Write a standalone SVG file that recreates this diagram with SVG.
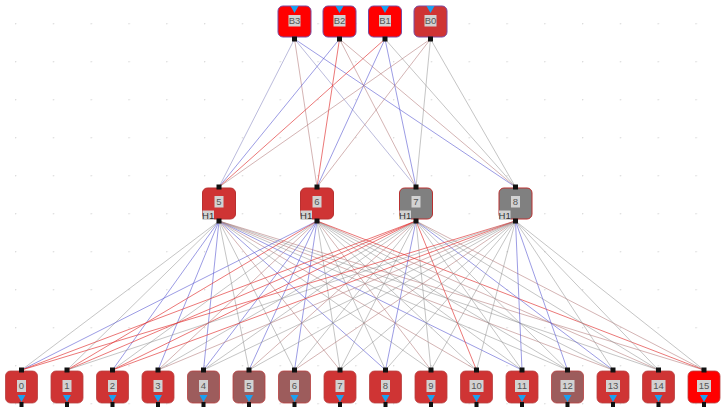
<svg xmlns="http://www.w3.org/2000/svg" width="721" height="407" viewBox="0 0 721 407">
  <style>
    .lbl { font-family: "Liberation Sans", Arial, sans-serif; font-size: 9.5px; fill: #555; text-anchor: middle; }
    .tag { fill: #d2d2d2; }
    .port { fill: #111; }
    .tri { fill: #1aa0f0; }
    .n-red { fill: #ff0000; }
    .n-dark { fill: #cf3434; }
    .n-brown { fill: #9d5c5c; }
    .n-grey { fill: #808080; }
    .bd-top { stroke: #7a4aa0; stroke-width: 1; }
    .bd-mid { stroke: #b83030; stroke-width: 1; }
    .bd-bot { stroke: #b84040; stroke-width: 0.8; }
    .e { fill: none; stroke-width: 1; }
    .g { stroke: #8c8c8c; stroke-opacity: 0.5; }
    .b { stroke: #5a5ad2; stroke-opacity: 0.6; }
    .bg { stroke: #8484c0; stroke-opacity: 0.55; }
    .r { stroke: #e03030; stroke-opacity: 0.65; }
    .m { stroke: #b07676; stroke-opacity: 0.55; }
  </style>
  <defs>
    <pattern id="grid" x="15" y="23" width="37.8" height="38" patternUnits="userSpaceOnUse">
      <circle cx="0.5" cy="0.5" r="0.9" fill="#dcdcdc"/>
    </pattern>
  </defs>

  <rect width="721" height="407" fill="#ffffff"/>
  <rect x="0" y="0" width="721" height="407" fill="url(#grid)"/>

  <!-- connectors: input layer to hidden layer, hidden layer to outputs -->
  <g id="connectors">
    <!-- B3 -->
    <line class="e bg" x1="294.5" y1="39" x2="219" y2="187"/>
    <line class="e m" x1="294.5" y1="39" x2="317" y2="187"/>
    <line class="e bg" x1="294.5" y1="39" x2="416" y2="187"/>
    <line class="e b" x1="294.5" y1="39" x2="515.5" y2="187"/>
    <!-- B2 -->
    <line class="e b" x1="339.5" y1="39" x2="219" y2="187"/>
    <line class="e r" x1="339.5" y1="39" x2="317" y2="187"/>
    <line class="e m" x1="339.5" y1="39" x2="416" y2="187"/>
    <line class="e m" x1="339.5" y1="39" x2="515.5" y2="187"/>
    <!-- B1 -->
    <line class="e r" x1="385" y1="39" x2="219" y2="187"/>
    <line class="e b" x1="385" y1="39" x2="317" y2="187"/>
    <line class="e b" x1="385" y1="39" x2="416" y2="187"/>
    <line class="e g" x1="385" y1="39" x2="515.5" y2="187"/>
    <!-- B0 -->
    <line class="e m" x1="430.5" y1="39" x2="219" y2="187"/>
    <line class="e m" x1="430.5" y1="39" x2="317" y2="187"/>
    <line class="e g" x1="430.5" y1="39" x2="416" y2="187"/>
    <line class="e g" x1="430.5" y1="39" x2="515.5" y2="187"/>

    <!-- hidden 5 -->
    <line class="e g" x1="219" y1="221" x2="21.5" y2="370"/>
    <line class="e g" x1="219" y1="221" x2="67" y2="370"/>
    <line class="e b" x1="219" y1="221" x2="112.5" y2="370"/>
    <line class="e b" x1="219" y1="221" x2="158" y2="370"/>
    <line class="e b" x1="219" y1="221" x2="203.5" y2="370"/>
    <line class="e g" x1="219" y1="221" x2="249" y2="370"/>
    <line class="e g" x1="219" y1="221" x2="294.5" y2="370"/>
    <line class="e m" x1="219" y1="221" x2="340" y2="370"/>
    <line class="e b" x1="219" y1="221" x2="385.5" y2="370"/>
    <line class="e g" x1="219" y1="221" x2="431" y2="370"/>
    <line class="e m" x1="219" y1="221" x2="476.5" y2="370"/>
    <line class="e b" x1="219" y1="221" x2="522" y2="370"/>
    <line class="e g" x1="219" y1="221" x2="567.5" y2="370"/>
    <line class="e m" x1="219" y1="221" x2="613" y2="370"/>
    <line class="e g" x1="219" y1="221" x2="658.5" y2="370"/>
    <line class="e m" x1="219" y1="221" x2="704" y2="370"/>
    <!-- hidden 6 -->
    <line class="e b" x1="317" y1="221" x2="21.5" y2="370"/>
    <line class="e r" x1="317" y1="221" x2="67" y2="370"/>
    <line class="e g" x1="317" y1="221" x2="112.5" y2="370"/>
    <line class="e m" x1="317" y1="221" x2="158" y2="370"/>
    <line class="e b" x1="317" y1="221" x2="203.5" y2="370"/>
    <line class="e b" x1="317" y1="221" x2="249" y2="370"/>
    <line class="e b" x1="317" y1="221" x2="294.5" y2="370"/>
    <line class="e g" x1="317" y1="221" x2="340" y2="370"/>
    <line class="e g" x1="317" y1="221" x2="385.5" y2="370"/>
    <line class="e m" x1="317" y1="221" x2="431" y2="370"/>
    <line class="e g" x1="317" y1="221" x2="476.5" y2="370"/>
    <line class="e g" x1="317" y1="221" x2="522" y2="370"/>
    <line class="e g" x1="317" y1="221" x2="567.5" y2="370"/>
    <line class="e g" x1="317" y1="221" x2="613" y2="370"/>
    <line class="e m" x1="317" y1="221" x2="658.5" y2="370"/>
    <line class="e r" x1="317" y1="221" x2="704" y2="370"/>
    <!-- hidden 7 -->
    <line class="e r" x1="416" y1="221" x2="21.5" y2="370"/>
    <line class="e r" x1="416" y1="221" x2="67" y2="370"/>
    <line class="e r" x1="416" y1="221" x2="112.5" y2="370"/>
    <line class="e g" x1="416" y1="221" x2="158" y2="370"/>
    <line class="e g" x1="416" y1="221" x2="203.5" y2="370"/>
    <line class="e m" x1="416" y1="221" x2="249" y2="370"/>
    <line class="e g" x1="416" y1="221" x2="294.5" y2="370"/>
    <line class="e g" x1="416" y1="221" x2="340" y2="370"/>
    <line class="e b" x1="416" y1="221" x2="385.5" y2="370"/>
    <line class="e g" x1="416" y1="221" x2="431" y2="370"/>
    <line class="e r" x1="416" y1="221" x2="476.5" y2="370"/>
    <line class="e g" x1="416" y1="221" x2="522" y2="370"/>
    <line class="e g" x1="416" y1="221" x2="567.5" y2="370"/>
    <line class="e b" x1="416" y1="221" x2="613" y2="370"/>
    <line class="e g" x1="416" y1="221" x2="658.5" y2="370"/>
    <line class="e m" x1="416" y1="221" x2="704" y2="370"/>
    <!-- hidden 8 -->
    <line class="e r" x1="515.5" y1="221" x2="21.5" y2="370"/>
    <line class="e g" x1="515.5" y1="221" x2="67" y2="370"/>
    <line class="e r" x1="515.5" y1="221" x2="112.5" y2="370"/>
    <line class="e m" x1="515.5" y1="221" x2="158" y2="370"/>
    <line class="e g" x1="515.5" y1="221" x2="203.5" y2="370"/>
    <line class="e g" x1="515.5" y1="221" x2="249" y2="370"/>
    <line class="e m" x1="515.5" y1="221" x2="294.5" y2="370"/>
    <line class="e g" x1="515.5" y1="221" x2="340" y2="370"/>
    <line class="e g" x1="515.5" y1="221" x2="385.5" y2="370"/>
    <line class="e g" x1="515.5" y1="221" x2="431" y2="370"/>
    <line class="e g" x1="515.5" y1="221" x2="476.5" y2="370"/>
    <line class="e b" x1="515.5" y1="221" x2="522" y2="370"/>
    <line class="e b" x1="515.5" y1="221" x2="567.5" y2="370"/>
    <line class="e g" x1="515.5" y1="221" x2="613" y2="370"/>
    <line class="e g" x1="515.5" y1="221" x2="658.5" y2="370"/>
    <line class="e g" x1="515.5" y1="221" x2="704" y2="370"/>
  </g>

  <!-- input layer -->
  <g id="node-B3">
    <rect class="n-red bd-top" x="278" y="6" width="33" height="31" rx="5"/>
    <polygon class="tri" points="290.5,6 298.5,6 294.5,13"/>
    <rect class="tag" x="288.5" y="15" width="12" height="11.5"/>
    <text class="lbl" x="294.5" y="24.3">B3</text>
    <rect class="port" x="292" y="36.5" width="5" height="5"/>
  </g>
  <g id="node-B2">
    <rect class="n-red bd-top" x="323" y="6" width="33" height="31" rx="5"/>
    <polygon class="tri" points="335.5,6 343.5,6 339.5,13"/>
    <rect class="tag" x="333.5" y="15" width="12" height="11.5"/>
    <text class="lbl" x="339.5" y="24.3">B2</text>
    <rect class="port" x="337" y="36.5" width="5" height="5"/>
  </g>
  <g id="node-B1">
    <rect class="n-red bd-top" x="368.5" y="6" width="33" height="31" rx="5"/>
    <polygon class="tri" points="381,6 389,6 385,13"/>
    <rect class="tag" x="379" y="15" width="12" height="11.5"/>
    <text class="lbl" x="385" y="24.3">B1</text>
    <rect class="port" x="382.5" y="36.5" width="5" height="5"/>
  </g>
  <g id="node-B0">
    <rect class="n-dark bd-top" x="414" y="6" width="33" height="31" rx="5"/>
    <polygon class="tri" points="426.5,6 434.5,6 430.5,13"/>
    <rect class="tag" x="424.5" y="15" width="12" height="11.5"/>
    <text class="lbl" x="430.5" y="24.3">B0</text>
    <rect class="port" x="428" y="36.5" width="5" height="5"/>
  </g>

  <!-- hidden layer -->
  <g id="node-5">
    <rect class="n-dark bd-mid" x="202.5" y="188" width="33" height="31" rx="5"/>
    <rect class="tag" x="214.5" y="196" width="9" height="11.5"/>
    <text class="lbl" x="219" y="204.8">5</text>
    <rect class="tag" x="202.5" y="210.5" width="11.5" height="9.5"/>
    <text class="lbl" x="208.2" y="218.6" style="fill:#333">H1</text>
    <rect class="port" x="216.5" y="184.5" width="5" height="5"/>
    <rect class="port" x="216.5" y="218.5" width="5" height="5"/>
  </g>
  <g id="node-6">
    <rect class="n-dark bd-mid" x="300.5" y="188" width="33" height="31" rx="5"/>
    <rect class="tag" x="312.5" y="196" width="9" height="11.5"/>
    <text class="lbl" x="317" y="204.8">6</text>
    <rect class="tag" x="300.5" y="210.5" width="11.5" height="9.5"/>
    <text class="lbl" x="306.2" y="218.6" style="fill:#333">H1</text>
    <rect class="port" x="314.5" y="184.5" width="5" height="5"/>
    <rect class="port" x="314.5" y="218.5" width="5" height="5"/>
  </g>
  <g id="node-7">
    <rect class="n-grey bd-mid" x="399.5" y="188" width="33" height="31" rx="5"/>
    <rect class="tag" x="411.5" y="196" width="9" height="11.5"/>
    <text class="lbl" x="416" y="204.8">7</text>
    <rect class="tag" x="399.5" y="210.5" width="11.5" height="9.5"/>
    <text class="lbl" x="405.2" y="218.6" style="fill:#333">H1</text>
    <rect class="port" x="413.5" y="184.5" width="5" height="5"/>
    <rect class="port" x="413.5" y="218.5" width="5" height="5"/>
  </g>
  <g id="node-8">
    <rect class="n-grey bd-mid" x="499" y="188" width="33" height="31" rx="5"/>
    <rect class="tag" x="511" y="196" width="9" height="11.5"/>
    <text class="lbl" x="515.5" y="204.8">8</text>
    <rect class="tag" x="499" y="210.5" width="11.5" height="9.5"/>
    <text class="lbl" x="504.7" y="218.6" style="fill:#333">H1</text>
    <rect class="port" x="513" y="184.5" width="5" height="5"/>
    <rect class="port" x="513" y="218.5" width="5" height="5"/>
  </g>

  <!-- output layer -->
  <g id="node-0">
    <rect class="n-dark bd-bot" x="5.5" y="371" width="32" height="32" rx="5"/>
    <rect class="tag" x="17" y="380" width="9" height="12"/>
    <text class="lbl" x="21.5" y="389.3">0</text>
    <polygon class="tri" points="17.5,395 25.5,395 21.5,402"/>
    <rect class="port" x="19" y="367.5" width="5" height="5"/>
    <rect class="port" x="19.5" y="402" width="4" height="5"/>
  </g>
  <g id="node-1">
    <rect class="n-dark bd-bot" x="51" y="371" width="32" height="32" rx="5"/>
    <rect class="tag" x="62.5" y="380" width="9" height="12"/>
    <text class="lbl" x="67" y="389.3">1</text>
    <polygon class="tri" points="63,395 71,395 67,402"/>
    <rect class="port" x="64.5" y="367.5" width="5" height="5"/>
    <rect class="port" x="65" y="402" width="4" height="5"/>
  </g>
  <g id="node-2">
    <rect class="n-dark bd-bot" x="96.5" y="371" width="32" height="32" rx="5"/>
    <rect class="tag" x="108" y="380" width="9" height="12"/>
    <text class="lbl" x="112.5" y="389.3">2</text>
    <polygon class="tri" points="108.5,395 116.5,395 112.5,402"/>
    <rect class="port" x="110" y="367.5" width="5" height="5"/>
    <rect class="port" x="110.5" y="402" width="4" height="5"/>
  </g>
  <g id="node-3">
    <rect class="n-dark bd-bot" x="142" y="371" width="32" height="32" rx="5"/>
    <rect class="tag" x="153.5" y="380" width="9" height="12"/>
    <text class="lbl" x="158" y="389.3">3</text>
    <polygon class="tri" points="154,395 162,395 158,402"/>
    <rect class="port" x="155.5" y="367.5" width="5" height="5"/>
    <rect class="port" x="156" y="402" width="4" height="5"/>
  </g>
  <g id="node-4">
    <rect class="n-brown bd-bot" x="187.5" y="371" width="32" height="32" rx="5"/>
    <rect class="tag" x="199" y="380" width="9" height="12"/>
    <text class="lbl" x="203.5" y="389.3">4</text>
    <polygon class="tri" points="199.5,395 207.5,395 203.5,402"/>
    <rect class="port" x="201" y="367.5" width="5" height="5"/>
    <rect class="port" x="201.5" y="402" width="4" height="5"/>
  </g>
  <g id="node-5o">
    <rect class="n-brown bd-bot" x="233" y="371" width="32" height="32" rx="5"/>
    <rect class="tag" x="244.5" y="380" width="9" height="12"/>
    <text class="lbl" x="249" y="389.3">5</text>
    <polygon class="tri" points="245,395 253,395 249,402"/>
    <rect class="port" x="246.5" y="367.5" width="5" height="5"/>
    <rect class="port" x="247" y="402" width="4" height="5"/>
  </g>
  <g id="node-6o">
    <rect class="n-brown bd-bot" x="278.5" y="371" width="32" height="32" rx="5"/>
    <rect class="tag" x="290" y="380" width="9" height="12"/>
    <text class="lbl" x="294.5" y="389.3">6</text>
    <polygon class="tri" points="290.5,395 298.5,395 294.5,402"/>
    <rect class="port" x="292" y="367.5" width="5" height="5"/>
    <rect class="port" x="292.5" y="402" width="4" height="5"/>
  </g>
  <g id="node-7o">
    <rect class="n-dark bd-bot" x="324" y="371" width="32" height="32" rx="5"/>
    <rect class="tag" x="335.5" y="380" width="9" height="12"/>
    <text class="lbl" x="340" y="389.3">7</text>
    <polygon class="tri" points="336,395 344,395 340,402"/>
    <rect class="port" x="337.5" y="367.5" width="5" height="5"/>
    <rect class="port" x="338" y="402" width="4" height="5"/>
  </g>
  <g id="node-8o">
    <rect class="n-dark bd-bot" x="369.5" y="371" width="32" height="32" rx="5"/>
    <rect class="tag" x="381" y="380" width="9" height="12"/>
    <text class="lbl" x="385.5" y="389.3">8</text>
    <polygon class="tri" points="381.5,395 389.5,395 385.5,402"/>
    <rect class="port" x="383" y="367.5" width="5" height="5"/>
    <rect class="port" x="383.5" y="402" width="4" height="5"/>
  </g>
  <g id="node-9">
    <rect class="n-dark bd-bot" x="415" y="371" width="32" height="32" rx="5"/>
    <rect class="tag" x="426.5" y="380" width="9" height="12"/>
    <text class="lbl" x="431" y="389.3">9</text>
    <polygon class="tri" points="427,395 435,395 431,402"/>
    <rect class="port" x="428.5" y="367.5" width="5" height="5"/>
    <rect class="port" x="429" y="402" width="4" height="5"/>
  </g>
  <g id="node-10">
    <rect class="n-dark bd-bot" x="460.5" y="371" width="32" height="32" rx="5"/>
    <rect class="tag" x="469.5" y="380" width="14" height="12"/>
    <text class="lbl" x="476.5" y="389.3">10</text>
    <polygon class="tri" points="472.5,395 480.5,395 476.5,402"/>
    <rect class="port" x="474" y="367.5" width="5" height="5"/>
    <rect class="port" x="474.5" y="402" width="4" height="5"/>
  </g>
  <g id="node-11">
    <rect class="n-dark bd-bot" x="506" y="371" width="32" height="32" rx="5"/>
    <rect class="tag" x="515" y="380" width="14" height="12"/>
    <text class="lbl" x="522" y="389.3">11</text>
    <polygon class="tri" points="518,395 526,395 522,402"/>
    <rect class="port" x="519.5" y="367.5" width="5" height="5"/>
    <rect class="port" x="520" y="402" width="4" height="5"/>
  </g>
  <g id="node-12">
    <rect class="n-brown bd-bot" x="551.5" y="371" width="32" height="32" rx="5"/>
    <rect class="tag" x="560.5" y="380" width="14" height="12"/>
    <text class="lbl" x="567.5" y="389.3">12</text>
    <polygon class="tri" points="563.5,395 571.5,395 567.5,402"/>
    <rect class="port" x="565" y="367.5" width="5" height="5"/>
    <rect class="port" x="565.5" y="402" width="4" height="5"/>
  </g>
  <g id="node-13">
    <rect class="n-dark bd-bot" x="597" y="371" width="32" height="32" rx="5"/>
    <rect class="tag" x="606" y="380" width="14" height="12"/>
    <text class="lbl" x="613" y="389.3">13</text>
    <polygon class="tri" points="609,395 617,395 613,402"/>
    <rect class="port" x="610.5" y="367.5" width="5" height="5"/>
    <rect class="port" x="611" y="402" width="4" height="5"/>
  </g>
  <g id="node-14">
    <rect class="n-dark bd-bot" x="642.5" y="371" width="32" height="32" rx="5"/>
    <rect class="tag" x="651.5" y="380" width="14" height="12"/>
    <text class="lbl" x="658.5" y="389.3">14</text>
    <polygon class="tri" points="654.5,395 662.5,395 658.5,402"/>
    <rect class="port" x="656" y="367.5" width="5" height="5"/>
    <rect class="port" x="656.5" y="402" width="4" height="5"/>
  </g>
  <g id="node-15">
    <rect class="n-red bd-bot" x="688" y="371" width="32" height="32" rx="5"/>
    <rect class="tag" x="697" y="380" width="14" height="12"/>
    <text class="lbl" x="704" y="389.3">15</text>
    <polygon class="tri" points="700,395 708,395 704,402"/>
    <rect class="port" x="701.5" y="367.5" width="5" height="5"/>
    <rect class="port" x="702" y="402" width="4" height="5"/>
  </g>
</svg>
